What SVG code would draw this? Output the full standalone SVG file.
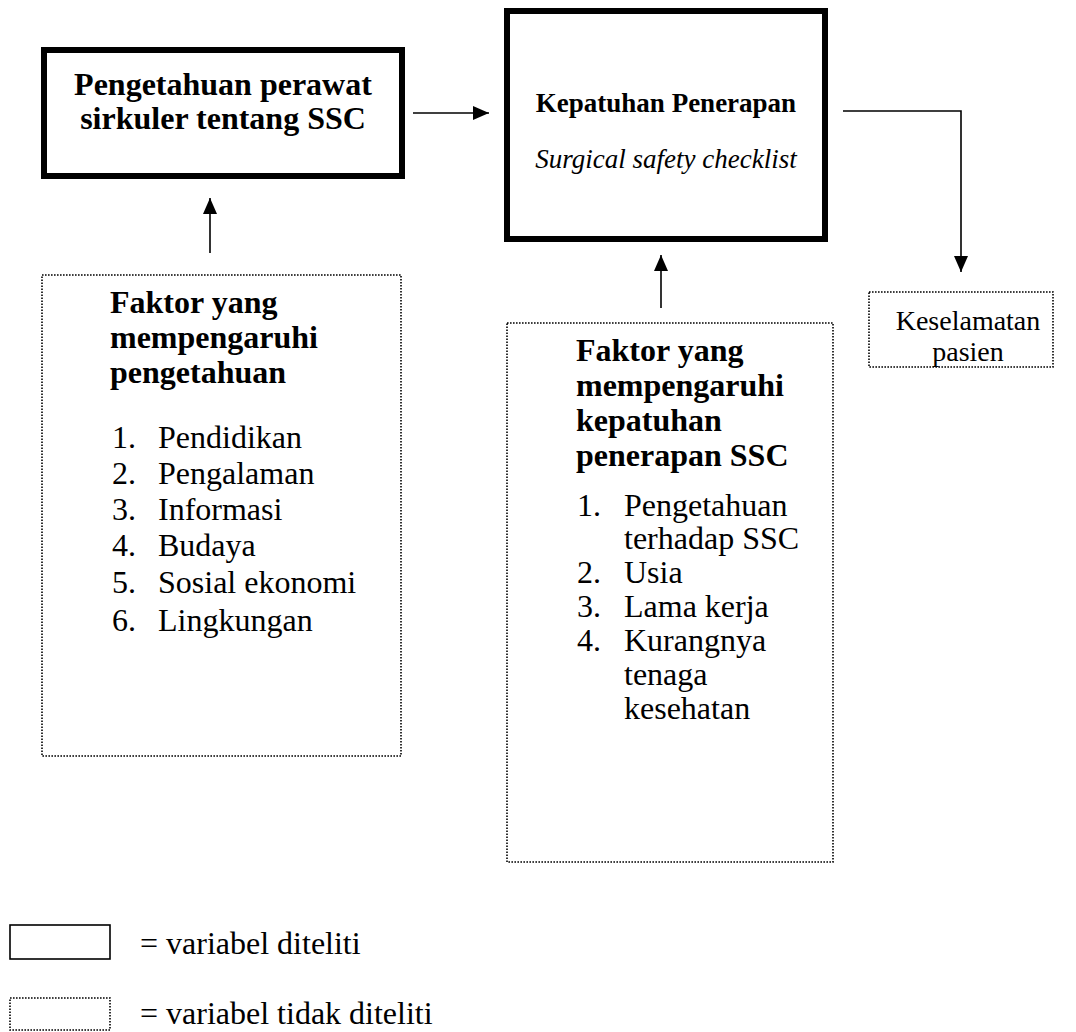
<svg xmlns="http://www.w3.org/2000/svg" width="1076" height="1032" viewBox="0 0 1076 1032">
<style>
text{font-family:"Liberation Serif","Times New Roman",serif;fill:#000}
.b{font-weight:bold}
.i{font-style:italic}
.thick{fill:#fff;stroke:#000;stroke-width:6}
.dot{fill:#fff;stroke:#000;stroke-width:1.6;stroke-dasharray:1.6 1.4}
.ln{fill:none;stroke:#000;stroke-width:1.6}
</style>
<defs>
<marker id="ah" markerWidth="16" markerHeight="14" refX="16" refY="7" orient="auto" markerUnits="userSpaceOnUse">
<path d="M0,0 L16,7 L0,14 Z" fill="#000"/>
</marker>
</defs>
<rect width="1076" height="1032" fill="#fff"/>
<g id="connectors">
<line class="ln" x1="413" y1="113" x2="489" y2="113" marker-end="url(#ah)"/>
<polyline class="ln" points="843,111 961,111 961,272" marker-end="url(#ah)"/>
<line class="ln" x1="210" y1="253" x2="210" y2="198" marker-end="url(#ah)"/>
<line class="ln" x1="661" y1="308" x2="661" y2="255" marker-end="url(#ah)"/>
</g>
<g id="node-pengetahuan">
<rect class="thick" x="44" y="50" width="358" height="126"/>
<text class="b" x="223" y="95" font-size="32" text-anchor="middle">Pengetahuan perawat</text>
<text class="b" x="223" y="129" font-size="32" text-anchor="middle">sirkuler tentang SSC</text>
</g>
<g id="node-kepatuhan">
<rect class="thick" x="507" y="11" width="318" height="228"/>
<text class="b" x="666" y="112" font-size="27" text-anchor="middle">Kepatuhan Penerapan</text>
<text class="i" x="666" y="168" font-size="27" text-anchor="middle">Surgical safety checklist</text>
</g>
<g id="node-faktor-pengetahuan">
<rect class="dot" x="42" y="275" width="359" height="481"/>
<text class="b" font-size="32"><tspan x="110" y="313">Faktor yang</tspan><tspan x="110" y="348">mempengaruhi</tspan><tspan x="110" y="383">pengetahuan</tspan></text>
<text font-size="32"><tspan x="112" y="448">1.</tspan><tspan x="112" y="484">2.</tspan><tspan x="112" y="520">3.</tspan><tspan x="112" y="556">4.</tspan><tspan x="112" y="593">5.</tspan><tspan x="112" y="631">6.</tspan></text>
<text font-size="32"><tspan x="158" y="448">Pendidikan</tspan><tspan x="158" y="484">Pengalaman</tspan><tspan x="158" y="520">Informasi</tspan><tspan x="158" y="556">Budaya</tspan><tspan x="158" y="593">Sosial ekonomi</tspan><tspan x="158" y="631">Lingkungan</tspan></text>
</g>
<g id="node-faktor-kepatuhan">
<rect class="dot" x="507" y="323" width="326" height="539"/>
<text class="b" font-size="32"><tspan x="576" y="361">Faktor yang</tspan><tspan x="576" y="396">mempengaruhi</tspan><tspan x="576" y="431">kepatuhan</tspan><tspan x="576" y="466">penerapan SSC</tspan></text>
<text font-size="32"><tspan x="577" y="516">1.</tspan><tspan x="577" y="583">2.</tspan><tspan x="577" y="617">3.</tspan><tspan x="577" y="651">4.</tspan></text>
<text font-size="32"><tspan x="624" y="516">Pengetahuan</tspan><tspan x="624" y="549">terhadap SSC</tspan><tspan x="624" y="583">Usia</tspan><tspan x="624" y="617">Lama kerja</tspan><tspan x="624" y="651">Kurangnya</tspan><tspan x="624" y="685">tenaga</tspan><tspan x="624" y="719">kesehatan</tspan></text>
</g>
<g id="node-keselamatan">
<rect class="dot" x="869" y="292" width="184" height="75"/>
<text font-size="28" x="968" y="330" text-anchor="middle">Keselamatan</text>
<text font-size="28" x="968" y="361" text-anchor="middle">pasien</text>
</g>
<g id="legend">
<rect x="10" y="925" width="100" height="34" fill="#fff" stroke="#000" stroke-width="1.6"/>
<text font-size="32" x="140" y="954">= variabel diteliti</text>
<rect class="dot" x="10" y="998" width="100" height="32"/>
<text font-size="32" x="140" y="1024">= variabel tidak diteliti</text>
</g>
</svg>
